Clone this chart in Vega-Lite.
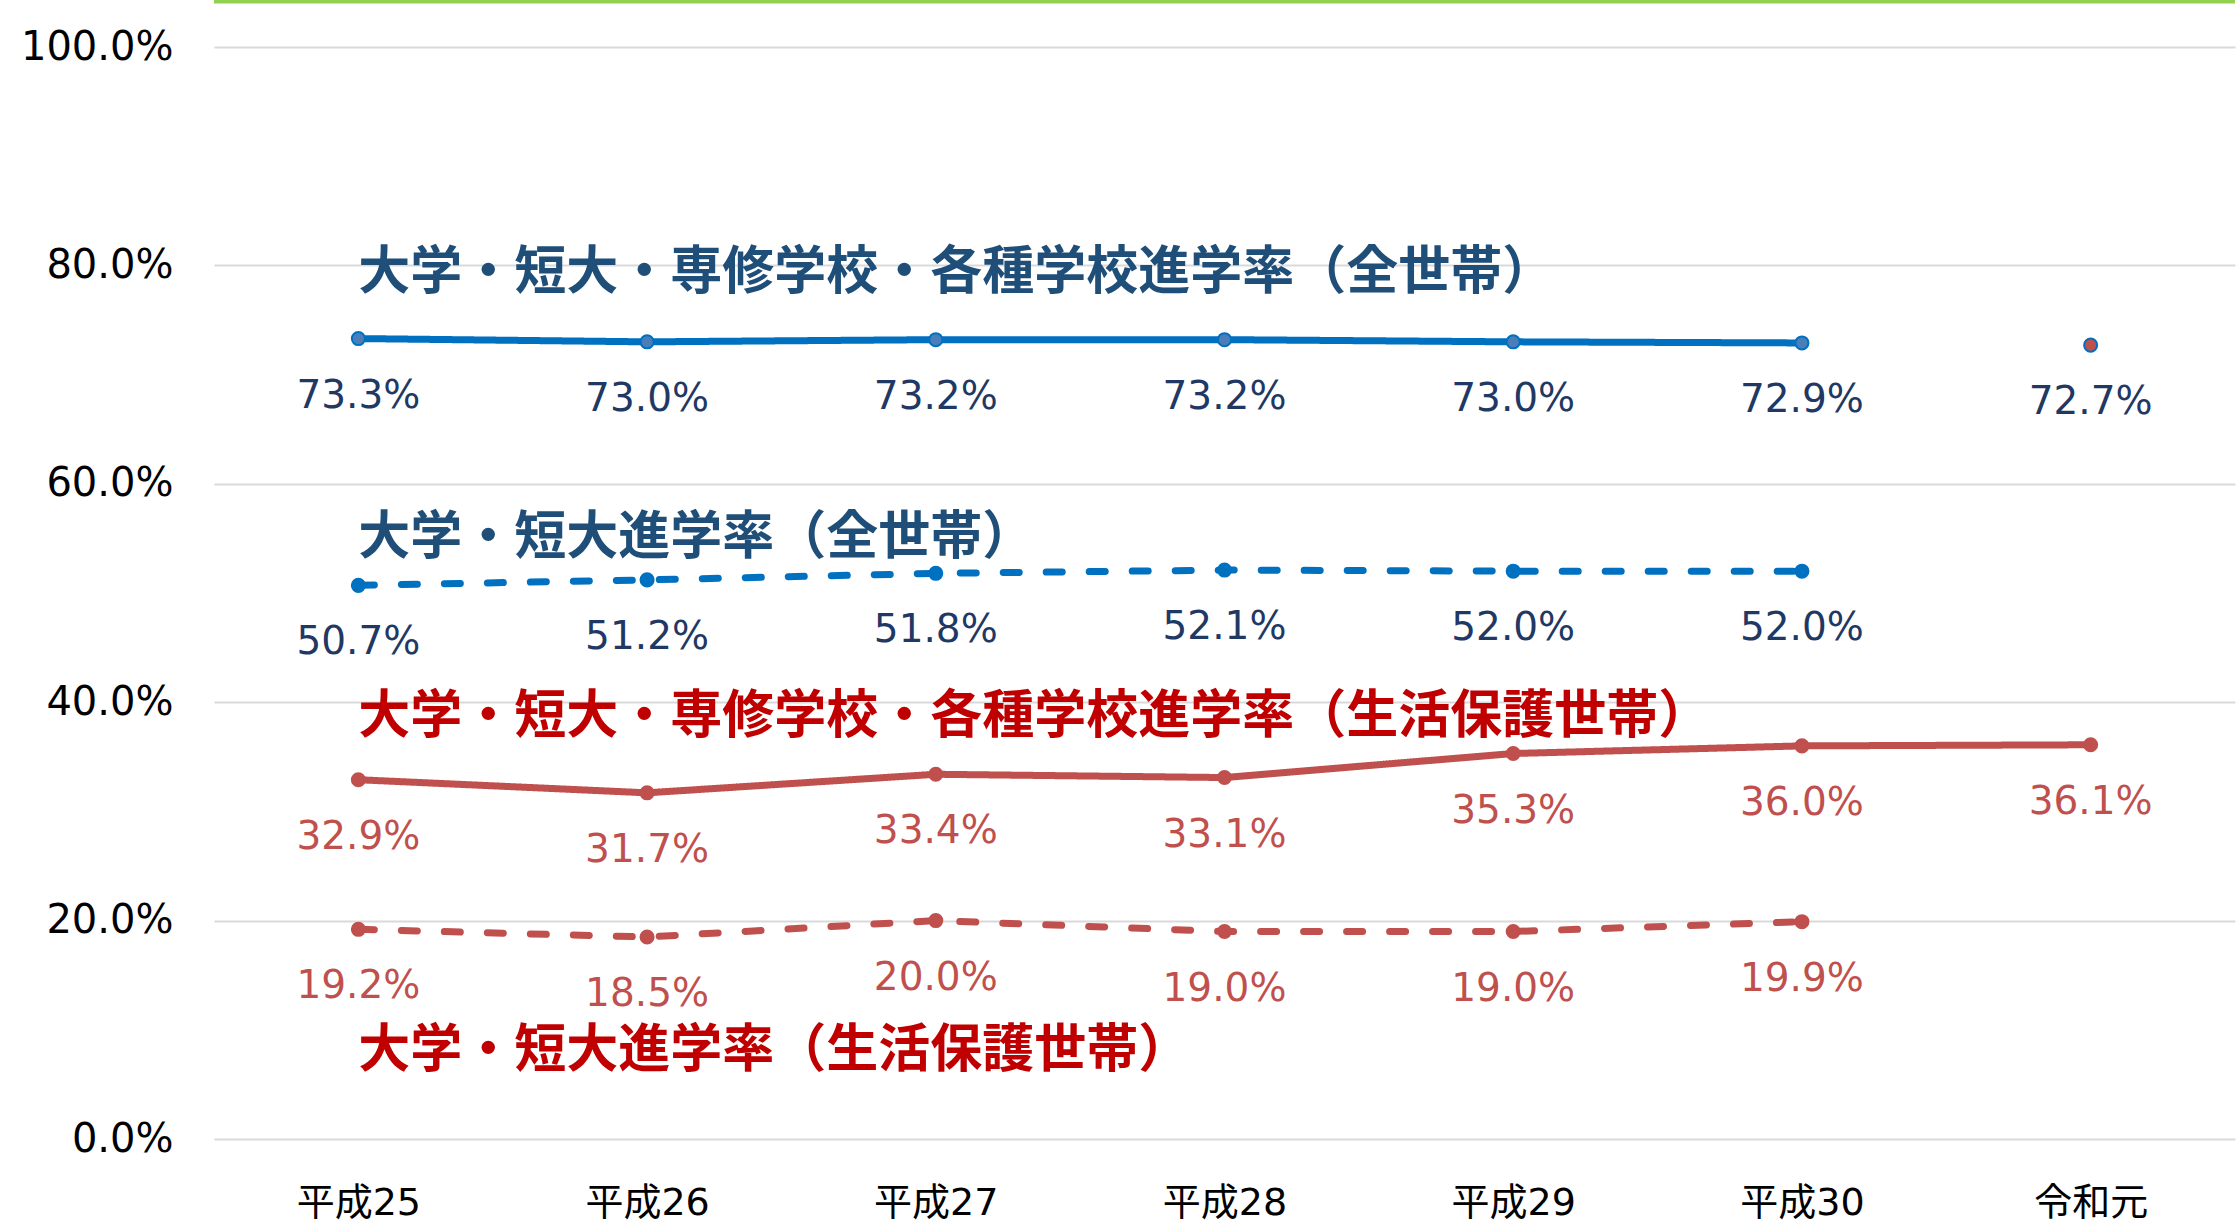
{
  "$schema": "https://vega.github.io/schema/vega-lite/v6.json",
  "width": 2021,
  "height": 1092,
  "autosize": {"type": "none"},
  "padding": {"left": 214, "top": 47, "right": 4, "bottom": 85},
  "background": "white",
  "config": {"view": {"stroke": null}},
  "datasets": {
    "rates": [
      {"year": "平成25", "series": "全世帯（大学等）", "value": 0.733},
      {"year": "平成26", "series": "全世帯（大学等）", "value": 0.730},
      {"year": "平成27", "series": "全世帯（大学等）", "value": 0.732},
      {"year": "平成28", "series": "全世帯（大学等）", "value": 0.732},
      {"year": "平成29", "series": "全世帯（大学等）", "value": 0.730},
      {"year": "平成30", "series": "全世帯（大学等）", "value": 0.729},
      {"year": "令和元", "series": "全世帯（大学等）", "value": 0.727},
      {"year": "平成25", "series": "全世帯（大学・短大）", "value": 0.507},
      {"year": "平成26", "series": "全世帯（大学・短大）", "value": 0.512},
      {"year": "平成27", "series": "全世帯（大学・短大）", "value": 0.518},
      {"year": "平成28", "series": "全世帯（大学・短大）", "value": 0.521},
      {"year": "平成29", "series": "全世帯（大学・短大）", "value": 0.520},
      {"year": "平成30", "series": "全世帯（大学・短大）", "value": 0.520},
      {"year": "平成25", "series": "生活保護世帯（大学等）", "value": 0.329},
      {"year": "平成26", "series": "生活保護世帯（大学等）", "value": 0.317},
      {"year": "平成27", "series": "生活保護世帯（大学等）", "value": 0.334},
      {"year": "平成28", "series": "生活保護世帯（大学等）", "value": 0.331},
      {"year": "平成29", "series": "生活保護世帯（大学等）", "value": 0.353},
      {"year": "平成30", "series": "生活保護世帯（大学等）", "value": 0.360},
      {"year": "令和元", "series": "生活保護世帯（大学等）", "value": 0.361},
      {"year": "平成25", "series": "生活保護世帯（大学・短大）", "value": 0.192},
      {"year": "平成26", "series": "生活保護世帯（大学・短大）", "value": 0.185},
      {"year": "平成27", "series": "生活保護世帯（大学・短大）", "value": 0.200},
      {"year": "平成28", "series": "生活保護世帯（大学・短大）", "value": 0.190},
      {"year": "平成29", "series": "生活保護世帯（大学・短大）", "value": 0.190},
      {"year": "平成30", "series": "生活保護世帯（大学・短大）", "value": 0.199}
    ],
    "notes": [
      {"year": "平成25", "label": "大学・短大・専修学校・各種学校進学率（全世帯）", "value": 0.793},
      {"year": "平成25", "label": "大学・短大進学率（全世帯）", "value": 0.550},
      {"year": "平成25", "label": "大学・短大・専修学校・各種学校進学率（生活保護世帯）", "value": 0.386},
      {"year": "平成25", "label": "大学・短大進学率（生活保護世帯）", "value": 0.081}
    ]
  },
  "layer": [
    {
      "data": {"name": "rates"},
      "transform": [{"filter": "!(datum.series == '全世帯（大学等）' && datum.year == '令和元')"}],
      "mark": {"type": "line", "strokeWidth": 7, "strokeCap": "round"},
      "encoding": {
        "x": {
          "field": "year", "type": "ordinal",
          "scale": {"type": "point", "padding": 0.5, "domain": ["平成25", "平成26", "平成27", "平成28", "平成29", "平成30", "令和元"]},
          "axis": {"title": null, "grid": false, "ticks": false, "domain": false, "labelAngle": 0, "labelFont": "DejaVu Sans, Noto Sans CJK JP", "labelFontSize": 38, "labelColor": "#000000", "labelPadding": 64, "labelBaseline": "middle"}
        },
        "y": {
          "field": "value", "type": "quantitative",
          "scale": {"domain": [0, 1], "nice": false},
          "axis": {"title": null, "values": [0, 0.2, 0.4, 0.6, 0.8, 1.0], "format": ".1%", "grid": true, "gridColor": "#d9d9d9", "gridWidth": 2, "ticks": false, "domain": false, "labelFont": "DejaVu Sans", "labelFontSize": 40, "labelColor": "#000000", "labelPadding": 41}
        },
        "color": {
          "field": "series", "type": "nominal", "legend": null,
          "scale": {"domain": ["全世帯（大学等）", "全世帯（大学・短大）", "生活保護世帯（大学等）", "生活保護世帯（大学・短大）"], "range": ["#0070c0", "#0070c0", "#c0504d", "#c0504d"]}
        },
        "strokeDash": {
          "field": "series", "type": "nominal", "legend": null,
          "scale": {"domain": ["全世帯（大学等）", "全世帯（大学・短大）", "生活保護世帯（大学等）", "生活保護世帯（大学・短大）"], "range": [[1, 0], [16, 27], [1, 0], [16, 27]]}
        }
      }
    },
    {
      "data": {"name": "rates"},
      "mark": {"type": "circle", "size": 170, "strokeWidth": 2, "opacity": 1},
      "encoding": {
        "x": {"field": "year", "type": "ordinal"},
        "y": {"field": "value", "type": "quantitative"},
        "fill": {
          "condition": {"test": "datum.year == '令和元' && datum.series == '全世帯（大学等）'", "value": "#c0504d"},
          "field": "series", "type": "nominal", "legend": null,
          "scale": {"domain": ["全世帯（大学等）", "全世帯（大学・短大）", "生活保護世帯（大学等）", "生活保護世帯（大学・短大）"], "range": ["#4a7ebb", "#0070c0", "#c0504d", "#c0504d"]}
        },
        "stroke": {
          "field": "series", "type": "nominal", "legend": null,
          "scale": {"domain": ["全世帯（大学等）", "全世帯（大学・短大）", "生活保護世帯（大学等）", "生活保護世帯（大学・短大）"], "range": ["#0070c0", "#0070c0", "#c0504d", "#c0504d"]}
        }
      }
    },
    {
      "data": {"name": "rates"},
      "mark": {"type": "text", "dy": 57, "baseline": "middle", "align": "center", "font": "DejaVu Sans", "fontSize": 39},
      "encoding": {
        "x": {"field": "year", "type": "ordinal"},
        "y": {"field": "value", "type": "quantitative"},
        "text": {"field": "value", "type": "quantitative", "format": ".1%"},
        "color": {"condition": {"test": "indexof(datum.series, '生活保護') >= 0", "value": "#c0504d"}, "value": "#1f3864"}
      }
    },
    {
      "data": {"name": "notes"},
      "mark": {"type": "text", "align": "left", "baseline": "middle", "font": "Noto Sans CJK JP", "fontWeight": "bold", "fontSize": 52, "dx": 0},
      "encoding": {
        "x": {"field": "year", "type": "ordinal"},
        "y": {"field": "value", "type": "quantitative"},
        "text": {"field": "label", "type": "nominal"},
        "color": {"condition": {"test": "indexof(datum.label, '生活保護') >= 0", "value": "#c00000"}, "value": "#1f4e79"}
      }
    },
    {
      "data": {"values": [{}]},
      "mark": {"type": "rule", "color": "#92d050", "strokeWidth": 4},
      "encoding": {"y": {"datum": 1.0417}}
    }
  ]
}
